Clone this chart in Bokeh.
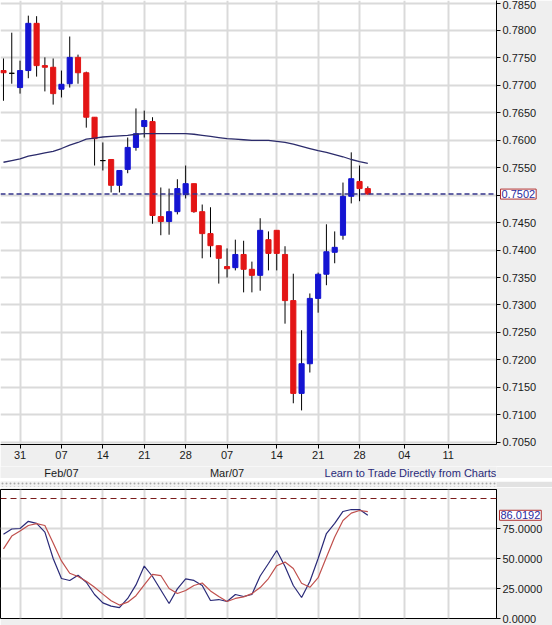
from bokeh.plotting import figure
from bokeh.layouts import column
from bokeh.models import (FixedTicker, PrintfTickFormatter, CustomJSTickFormatter,
                          Range1d, Span, Label)
from bokeh.embed import file_html
from bokeh.resources import INLINE

# ---------------- data ----------------
opens = [0.7727, 0.7722, 0.7696, 0.7727, 0.7813, 0.7736, 0.7733, 0.7693, 0.7703, 0.7751,
         0.7723, 0.7642, 0.7563, 0.7565, 0.7518, 0.7547, 0.7587, 0.7625, 0.7634, 0.7461,
         0.7452, 0.7470, 0.7501, 0.7521, 0.7470, 0.7430, 0.7408, 0.7370, 0.7368, 0.7392,
         0.7365, 0.7354, 0.7419, 0.7436, 0.7392, 0.7308, 0.7139, 0.7193, 0.7312, 0.7356,
         0.7396, 0.7427, 0.7498, 0.7525, 0.7512]
highs = [0.7749, 0.7796, 0.7745, 0.7827, 0.7826, 0.7751, 0.7749, 0.7727, 0.7789, 0.7756,
         0.7725, 0.7642, 0.7596, 0.7565, 0.7545, 0.7605, 0.7658, 0.7654, 0.7642, 0.7514,
         0.7512, 0.7529, 0.7554, 0.7521, 0.7483, 0.7478, 0.7408, 0.7403, 0.7419, 0.7417,
         0.7379, 0.7458, 0.7434, 0.7436, 0.7407, 0.7357, 0.7254, 0.7321, 0.7359, 0.7447,
         0.7434, 0.7523, 0.7578, 0.7554, 0.7516]
lows = [0.7672, 0.7703, 0.7685, 0.7713, 0.7716, 0.7689, 0.7665, 0.7678, 0.7696, 0.7703,
        0.7623, 0.7554, 0.7545, 0.7505, 0.7505, 0.7540, 0.7581, 0.7605, 0.7448, 0.7427,
        0.7428, 0.7465, 0.7494, 0.7468, 0.7385, 0.7387, 0.7339, 0.7350, 0.7363, 0.7323,
        0.7323, 0.7326, 0.7363, 0.7363, 0.7266, 0.7121, 0.7108, 0.7177, 0.7286, 0.7336,
        0.7376, 0.7419, 0.7485, 0.7489, 0.7501]
closes = [0.7723, 0.7722, 0.7727, 0.7813, 0.7736, 0.7733, 0.7685, 0.7702, 0.7751, 0.7723,
          0.7642, 0.7603, 0.7563, 0.7518, 0.7545, 0.7587, 0.7612, 0.7636, 0.7463, 0.7452,
          0.7470, 0.7512, 0.7521, 0.7470, 0.7430, 0.7408, 0.7385, 0.7366, 0.7392, 0.7365,
          0.7354, 0.7436, 0.7394, 0.7394, 0.7308, 0.7139, 0.7193, 0.7312, 0.7356, 0.7397,
          0.7405, 0.7498, 0.7530, 0.7512, 0.7502]
moving_avg = [0.7560, 0.7563, 0.7566, 0.7571, 0.7574, 0.7577, 0.7580, 0.7585, 0.7591, 0.7596,
              0.7602, 0.7604, 0.7606, 0.7607, 0.7608, 0.7609, 0.7611, 0.7612, 0.7612, 0.7612,
              0.7612, 0.7612, 0.7612, 0.7611, 0.7609, 0.7607, 0.7605, 0.7603, 0.7602, 0.7601,
              0.7600, 0.7600, 0.7600, 0.7598, 0.7596, 0.7593, 0.7589, 0.7585, 0.7581, 0.7578,
              0.7574, 0.7570, 0.7565, 0.7561, 0.7558]
stoch_k = [70.3, 74.6, 75.0, 81.0, 79.3, 72.0, 50.0, 33.3, 31.7, 36.0,
           30.2, 20.0, 13.0, 10.3, 9.0, 16.7, 28.0, 43.7, 35.0, 23.7,
           12.5, 24.7, 33.0, 31.7, 27.5, 15.0, 15.8, 14.2, 20.0, 18.3,
           20.0, 35.4, 45.8, 56.7, 43.3, 27.5, 17.5, 30.8, 50.0, 70.8,
           79.2, 89.2, 90.8, 90.8, 86.0192]
stoch_d = [58.0, 68.7, 73.0, 77.5, 79.0, 77.5, 63.0, 48.0, 37.7, 35.0,
           31.0, 26.0, 20.3, 14.8, 11.2, 13.6, 19.0, 28.0, 36.7, 35.8,
           25.0, 20.8, 23.3, 27.5, 29.6, 23.0, 18.3, 14.2, 16.7, 18.0,
           20.7, 25.8, 33.3, 44.0, 47.0, 41.7, 29.4, 26.0, 34.0, 51.0,
           68.0, 81.7, 87.8, 90.0, 89.0]

price_ticks = [0.7050, 0.7100, 0.7150, 0.7200, 0.7250, 0.7300, 0.7350, 0.7400, 0.7450,
               0.7500, 0.7550, 0.7600, 0.7650, 0.7700, 0.7750, 0.7800, 0.7850]
stoch_ticks = [0, 25, 50, 75]
stoch_level = 100
date_ticks = [2, 7, 12, 17, 22, 27, 33, 38, 43, 48.4, 53.7]
date_labels = ["31", "07", "14", "21", "28", "07", "14", "21", "28", "04", "11"]
month_pos = [7, 27]
month_labels = ["Feb/07", "Mar/07"]
promo_text = "Learn to Trade Directly from Charts"

# ---------------- derived ----------------
n = len(closes)
bars = list(range(n))
body_top = [max(o, c) for o, c in zip(opens, closes)]
body_bot = [min(o, c) for o, c in zip(opens, closes)]
UP, DOWN = "#1414d2", "#e31515"
colors = [UP if c > o else (DOWN if c < o else "black") for o, c in zip(opens, closes)]

FONT = "Liberation Sans"
FS = "11px"
X0, X1 = -0.36, 59.54
Y0, Y1 = 0.70459, 0.78546
GRID = "#dadada"
BORDER = "#efefef"
FRAME_W = 496


def box_label(x, y, text, x_offset):
    # a value tag drawn over the right-hand axis strip
    return Label(x=x, y=y, x_offset=x_offset, text=text, text_align="left",
                 text_baseline="middle", text_font=FONT, text_font_size=FS,
                 text_color="#2a2aa0", background_fill_color="white",
                 border_line_color="#b03030", padding=1)


# ---------------- main price panel ----------------
p = figure(frame_width=FRAME_W, frame_height=444, x_range=Range1d(X0, X1),
           y_range=Range1d(Y0, Y1), y_axis_location="right", output_backend="svg",
           toolbar_location=None, min_border_left=0, min_border_top=0,
           min_border_right=56, min_border_bottom=22)
p.background_fill_color = "white"
p.border_fill_color = BORDER
p.outline_line_color = None

p.yaxis.ticker = FixedTicker(ticks=price_ticks)
p.yaxis.formatter = PrintfTickFormatter(format="%.4f")
p.xaxis.ticker = FixedTicker(ticks=date_ticks)
p.xaxis.formatter = CustomJSTickFormatter(args=dict(tpos=date_ticks, tlab=date_labels), code="""
    let best = 0, bd = 1e9;
    for (let i = 0; i < tpos.length; i++) {
        const d = Math.abs(tpos[i] - tick);
        if (d < bd) { bd = d; best = i; }
    }
    return tlab[best];
""")
for ax in (p.xaxis, p.yaxis):
    ax.axis_line_color = "black"
    ax.axis_line_width = 1
    ax.major_tick_in = 0
    ax.major_tick_out = 4
    ax.major_tick_line_color = "black"
    ax.minor_tick_line_color = None
    ax.major_label_text_font = FONT
    ax.major_label_text_font_size = FS
    ax.major_label_text_color = "#1a1a1a"
    ax.major_label_standoff = 2

p.xgrid.ticker = FixedTicker(ticks=date_ticks)
p.ygrid.ticker = FixedTicker(ticks=price_ticks)
p.grid.grid_line_color = GRID
p.grid.grid_line_width = 2

p.segment(x0=bars, y0=highs, x1=bars, y1=lows, line_color="black", line_width=1)
p.vbar(x=bars, width=0.62, top=body_top, bottom=body_bot,
       fill_color=colors, line_color=colors, line_width=1)
p.line(bars, moving_avg, line_color="#2b2b6b", line_width=1.3)

p.add_layout(Span(location=closes[-1], dimension="width", line_color="#34348a",
                  line_dash="5 3", line_width=1.5))
# placed in a side panel so it is not clipped to the plotting frame
p.add_layout(box_label(X1, closes[-1], f"{closes[-1]:.4f}", 4), "right")

# ---------------- footer row (month names, promo) ----------------
f = figure(frame_width=FRAME_W, frame_height=12, x_range=p.x_range, y_range=Range1d(0, 1),
           x_axis_location=None, y_axis_location=None, output_backend="svg",
           toolbar_location=None, min_border_left=0, min_border_top=0,
           min_border_bottom=0, min_border_right=56)
f.grid.visible = False
f.outline_line_color = None
f.background_fill_color = BORDER
f.border_fill_color = BORDER
f.text(x=month_pos, y=[0.5] * len(month_pos), text=month_labels, text_align="center",
       text_baseline="middle", text_font={"value": FONT}, text_font_size=FS,
       text_color="#1a1a1a")
f.text(x=[X1], y=[0.5], text=[promo_text], text_align="right", text_baseline="middle",
       text_font={"value": FONT}, text_font_size=FS, text_color="#2a2a7a")

# ---------------- splitter strip ----------------
s = figure(frame_width=FRAME_W, frame_height=9, x_range=Range1d(0, 1), y_range=Range1d(0, 1),
           x_axis_location=None, y_axis_location=None, output_backend="svg",
           toolbar_location=None, min_border_left=0, min_border_top=0,
           min_border_bottom=0, min_border_right=56)
s.grid.visible = False
s.outline_line_color = None
s.background_fill_color = "#ececec"
s.border_fill_color = "#e2e2e2"
s.quad(left=[0], right=[1], bottom=[0], top=[1], fill_color="#f2f2f2", line_color=None,
       hatch_pattern=".", hatch_color="#a8a8a8", hatch_scale=4, hatch_weight=1)

# ---------------- stochastic panel ----------------
q = figure(frame_width=FRAME_W, frame_height=129, x_range=p.x_range, y_range=Range1d(0, 107.5),
           y_axis_location="right", output_backend="svg", toolbar_location=None,
           min_border_left=0, min_border_top=2, min_border_right=56, min_border_bottom=7)
q.background_fill_color = "white"
q.border_fill_color = BORDER
q.outline_line_color = "black"
q.outline_line_width = 1
q.xaxis.visible = False
q.yaxis.ticker = FixedTicker(ticks=stoch_ticks)
q.yaxis.formatter = PrintfTickFormatter(format="%.4f")
q.yaxis.axis_line_color = "black"
q.yaxis.major_tick_in = 0
q.yaxis.major_tick_out = 4
q.yaxis.minor_tick_line_color = None
q.yaxis.major_label_text_font = FONT
q.yaxis.major_label_text_font_size = FS
q.yaxis.major_label_text_color = "#1a1a1a"
q.yaxis.major_label_standoff = 2
q.xgrid.ticker = FixedTicker(ticks=date_ticks)
q.ygrid.ticker = FixedTicker(ticks=stoch_ticks)
q.grid.grid_line_color = GRID
q.grid.grid_line_width = 2

q.add_layout(Span(location=stoch_level, dimension="width", line_color="#7a1a1a",
                  line_dash="6 4", line_width=1.2))
q.line(bars, stoch_k, line_color="#2a2a78", line_width=1.2)
q.line(bars, stoch_d, line_color="#c0504d", line_width=1.2)
q.add_layout(box_label(X1, stoch_k[-1], f"{stoch_k[-1]:.4f}", 3), "right")

layout = column(p, f, s, q, spacing=0)
open("out.html", "w").write(file_html(layout, INLINE))
